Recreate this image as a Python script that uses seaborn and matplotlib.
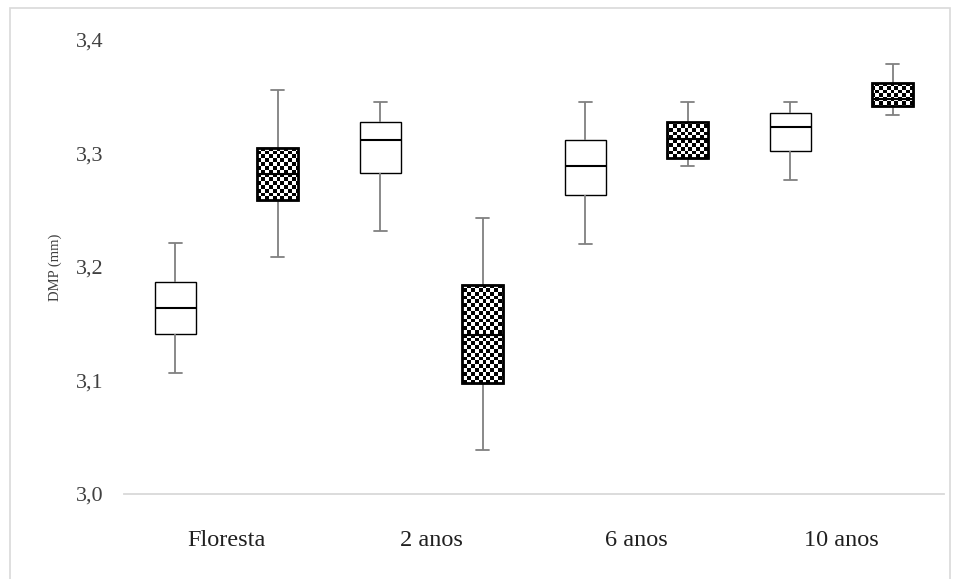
import numpy as np
import pandas as pd
import seaborn as sns
import matplotlib
matplotlib.use("Agg")
import matplotlib.pyplot as plt
from matplotlib.patches import Rectangle, PathPatch

# ---- data (five-number summaries: min, Q1, median, Q3, max) ----
categories = ["Floresta", "2 anos", "6 anos", "10 anos"]
series_names = ["Série 1", "Série 2"]
serie1_floresta = [3.107, 3.141, 3.164, 3.187, 3.221]
serie1_2anos = [3.232, 3.283, 3.312, 3.328, 3.345]
serie1_6anos = [3.220, 3.263, 3.289, 3.312, 3.345]
serie1_10anos = [3.277, 3.302, 3.323, 3.336, 3.345]
serie2_floresta = [3.209, 3.259, 3.282, 3.305, 3.356]
serie2_2anos = [3.039, 3.098, 3.140, 3.184, 3.243]
serie2_6anos = [3.289, 3.296, 3.313, 3.328, 3.345]
serie2_10anos = [3.334, 3.342, 3.348, 3.362, 3.379]
yticks = [3.0, 3.1, 3.2, 3.3, 3.4]
ytick_labels = ["3,0", "3,1", "3,2", "3,3", "3,4"]
ylabel = "DMP (mm)"

serie1 = [serie1_floresta, serie1_2anos, serie1_6anos, serie1_10anos]
serie2 = [serie2_floresta, serie2_2anos, serie2_6anos, serie2_10anos]

rows = []
for name, vals_list in zip(series_names, [serie1, serie2]):
    for cat, vals in zip(categories, vals_list):
        for v in vals:
            rows.append({"cat": cat, "serie": name, "DMP": v})
df = pd.DataFrame(rows)

# ---- style ----
sns.set_theme(style="white")
plt.rcParams["font.family"] = ["Liberation Serif", "DejaVu Serif"]

W, H = 960, 579
fig = plt.figure(figsize=(W / 100, H / 100), dpi=100)
ax_left, ax_right, ax_top, ax_bot = 124, 944, 40, 494
ax = fig.add_axes([ax_left / W, 1 - ax_bot / H, (ax_right - ax_left) / W, (ax_bot - ax_top) / H])

grey = "#808080"
sns.boxplot(
    data=df, x="cat", y="DMP", hue="serie", order=categories, hue_order=series_names,
    palette={series_names[0]: "white", series_names[1]: "black"},
    width=1.0, gap=0.6, whis=(0, 100), linecolor="black", linewidth=1.0,
    fliersize=0, legend=False, ax=ax,
    whiskerprops=dict(color=grey, linewidth=1.3),
    capprops=dict(color=grey, linewidth=1.3),
    medianprops=dict(color="black", linewidth=1.5),
)

ax.set_xlim(-0.5, 3.5)
ax.set_ylim(3.0, 3.4)

# shorter whisker caps
for ln in ax.lines:
    xd = np.asarray(ln.get_xdata(), dtype=float)
    yd = np.asarray(ln.get_ydata(), dtype=float)
    if len(xd) == 2 and yd[0] == yd[1] and matplotlib.colors.to_hex(ln.get_color()) == grey:
        c = xd.mean()
        half = (xd[1] - xd[0]) / 2 * 0.62
        ln.set_xdata([c - half, c + half])

# checkerboard fill for the second series
cell = 3.8
nx = int((ax_right - ax_left) / cell)
ny = int((ax_bot - ax_top) / cell)
checker = (np.add.outer(np.arange(ny), np.arange(nx)) % 2).astype(float)
for p in list(ax.patches):
    fc = p.get_facecolor()
    if fc[0] < 0.5:
        im = ax.imshow(checker, extent=(-0.5, 3.5, 3.0, 3.4), origin="lower", cmap="gray",
                       interpolation="nearest", aspect="auto", zorder=p.get_zorder() + 0.03)
        im.set_clip_path(p)
        outline = PathPatch(p.get_path(), transform=p.get_transform(), fill=False,
                            edgecolor="black", linewidth=2.0, zorder=p.get_zorder() + 0.05)
        ax.add_patch(outline)
ax.set_xlim(-0.5, 3.5)
ax.set_ylim(3.0, 3.4)

for s in ["top", "right", "left"]:
    ax.spines[s].set_visible(False)
ax.spines["bottom"].set_color("#d9d9d9")
ax.spines["bottom"].set_linewidth(1.3)

ax.set_yticks(yticks)
ax.set_yticklabels(ytick_labels)
ax.tick_params(axis="y", length=0, pad=15, labelsize=16, colors="#404040")
ax.tick_params(axis="x", length=0, pad=26, labelsize=17.5, colors="#202020")
ax.set_xlabel("")
ax.set_ylabel(ylabel, fontsize=10.5, color="#404040")
ax.yaxis.set_label_coords((62 - ax_left) / (ax_right - ax_left), 0.5)

# light chart-area border
fig.add_artist(Rectangle((10 / W, -0.05), 940 / W, 1.05 - 8 / H, transform=fig.transFigure,
                         fill=False, edgecolor="#d9d9d9", linewidth=1.2))

fig.savefig("out.png", dpi=100)
